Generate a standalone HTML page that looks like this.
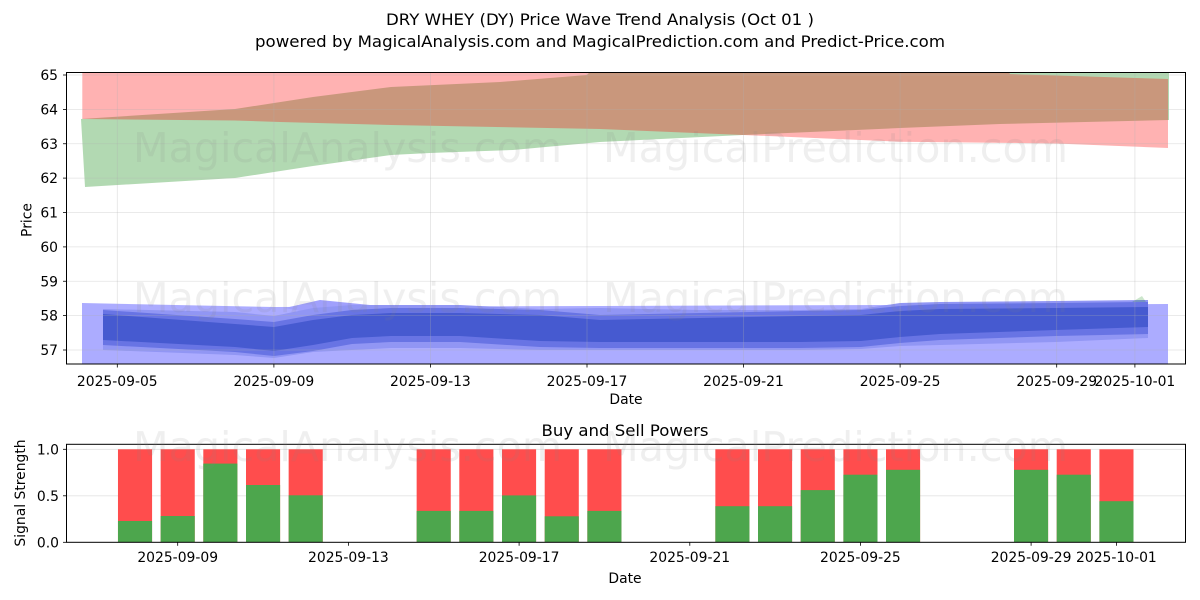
<!DOCTYPE html>
<html><head><meta charset="utf-8"><style>
html,body{margin:0;padding:0;background:#fff;}
svg{display:block;font-family:"DejaVu Sans","Liberation Sans",sans-serif;}
</style></head><body>
<svg width="1200" height="600" viewBox="0 0 1200 600" xmlns="http://www.w3.org/2000/svg">
<defs>
<clipPath id="c1"><rect x="66.5" y="72.5" width="1119" height="291.5"/></clipPath>
<clipPath id="c2"><rect x="66.5" y="444.3" width="1119" height="98"/></clipPath>
</defs>
<rect width="1200" height="600" fill="#fff"/>

<!-- Titles -->
<text x="600" y="25" font-size="16.3" text-anchor="middle" textLength="428" lengthAdjust="spacingAndGlyphs">DRY WHEY (DY) Price Wave Trend Analysis (Oct 01 )</text>
<text x="600" y="47" font-size="16.3" text-anchor="middle" textLength="690" lengthAdjust="spacingAndGlyphs">powered by MagicalAnalysis.com and MagicalPrediction.com and Predict-Price.com</text>

<!-- TOP CHART -->
<g clip-path="url(#c1)">
  <polygon fill="#008000" fill-opacity="0.3" points="81,119 235,109 274,103 313,97 391,87 500,82 587,75 600,60 1169,60 1169,120 1000,124 900,128 743,135 600,142 513,150 430,153 391,155 313,166 274,172 235,178 85,187"/>
  <polygon fill="#ff0000" fill-opacity="0.3" points="82.3,60 1000,60 1010,74 1168,79 1168,148 1056,143.5 900,141.7 743,135 600,129 391,125 280,122 235,120.5 82.3,119"/>
  <polygon fill="rgb(172,172,255)" points="82,303 274,307 600,306 1168,304 1168,370 82,370"/>
  <polygon fill="rgb(160,160,252)" points="285,308 320,300 350,303 380,306 300,311"/>
  <polygon fill="rgb(145,150,244)" points="103,309 235,312 274,316 313,308 352,305 391,305 460,305 540,309 600,308 700,310 800,310 861,309 900,303 940,302 1056,301 1148,300 1148,338 1056,342 940,345 900,346 861,349 800,350 700,350 600,350 540,350 460,348 391,348 352,350 313,352 274,358 235,355 103,350"/>
  <polygon fill="rgb(104,116,228)" points="103,310 235,319 274,322 313,315 352,310 391,308 460,308 540,310 600,315 700,313 800,311 861,310 900,306 940,304 1056,303 1148,302 1148,334 1056,336 940,340 900,343 861,347 800,348 700,348 600,348 540,347 460,342 391,342 352,344 313,351 274,356 235,352 103,345"/>
  <polygon fill="rgb(70,90,208)" points="103,314 235,324 274,327 313,320 352,315 391,313 460,313 540,315 600,320 700,318 800,316 861,315 900,311 940,309 1056,308 1148,307 1148,327 1056,330 940,334 900,337 861,341 800,342 700,342 600,342 540,341 460,336 391,336 352,338 313,345 274,351 235,347 103,340"/>
  <polygon fill="#008000" fill-opacity="0.2" points="1132,302 1142,296 1146,302"/>
</g>

<g stroke="#b0b0b0" stroke-opacity="0.35" stroke-width="0.8">
  <line x1="66.5" x2="1185.5" y1="75" y2="75"/>
  <line x1="66.5" x2="1185.5" y1="109.4" y2="109.4"/>
  <line x1="66.5" x2="1185.5" y1="143.75" y2="143.75"/>
  <line x1="66.5" x2="1185.5" y1="178.1" y2="178.1"/>
  <line x1="66.5" x2="1185.5" y1="212.5" y2="212.5"/>
  <line x1="66.5" x2="1185.5" y1="246.9" y2="246.9"/>
  <line x1="66.5" x2="1185.5" y1="281.25" y2="281.25"/>
  <line x1="66.5" x2="1185.5" y1="315.6" y2="315.6"/>
  <line x1="66.5" x2="1185.5" y1="350" y2="350"/>
  <line y1="72.5" y2="364" x1="117.3" x2="117.3"/>
  <line y1="72.5" y2="364" x1="273.9" x2="273.9"/>
  <line y1="72.5" y2="364" x1="430.4" x2="430.4"/>
  <line y1="72.5" y2="364" x1="587" x2="587"/>
  <line y1="72.5" y2="364" x1="743.5" x2="743.5"/>
  <line y1="72.5" y2="364" x1="900.1" x2="900.1"/>
  <line y1="72.5" y2="364" x1="1056.7" x2="1056.7"/>
  <line y1="72.5" y2="364" x1="1134.9" x2="1134.9"/>
</g>
<rect x="66.5" y="72.5" width="1119" height="291.5" fill="none" stroke="#000" stroke-width="1"/>

<g stroke="#000" stroke-width="0.8">
  <line x1="63" x2="66.5" y1="75" y2="75"/>
  <line x1="63" x2="66.5" y1="109.4" y2="109.4"/>
  <line x1="63" x2="66.5" y1="143.75" y2="143.75"/>
  <line x1="63" x2="66.5" y1="178.1" y2="178.1"/>
  <line x1="63" x2="66.5" y1="212.5" y2="212.5"/>
  <line x1="63" x2="66.5" y1="246.9" y2="246.9"/>
  <line x1="63" x2="66.5" y1="281.25" y2="281.25"/>
  <line x1="63" x2="66.5" y1="315.6" y2="315.6"/>
  <line x1="63" x2="66.5" y1="350" y2="350"/>
  <line y1="364" y2="367.5" x1="117.3" x2="117.3"/>
  <line y1="364" y2="367.5" x1="273.9" x2="273.9"/>
  <line y1="364" y2="367.5" x1="430.4" x2="430.4"/>
  <line y1="364" y2="367.5" x1="587" x2="587"/>
  <line y1="364" y2="367.5" x1="743.5" x2="743.5"/>
  <line y1="364" y2="367.5" x1="900.1" x2="900.1"/>
  <line y1="364" y2="367.5" x1="1056.7" x2="1056.7"/>
  <line y1="364" y2="367.5" x1="1134.9" x2="1134.9"/>
</g>
<g font-size="13.9" text-anchor="end">
  <text x="58" y="80">65</text>
  <text x="58" y="114.4">64</text>
  <text x="58" y="148.75">63</text>
  <text x="58" y="183.1">62</text>
  <text x="58" y="217.5">61</text>
  <text x="58" y="251.9">60</text>
  <text x="58" y="286.25">59</text>
  <text x="58" y="320.6">58</text>
  <text x="58" y="355">57</text>
</g>
<g font-size="13.9" text-anchor="middle">
  <text x="117.3" y="386">2025-09-05</text>
  <text x="273.9" y="386">2025-09-09</text>
  <text x="430.4" y="386">2025-09-13</text>
  <text x="587" y="386">2025-09-17</text>
  <text x="743.5" y="386">2025-09-21</text>
  <text x="900.1" y="386">2025-09-25</text>
  <text x="1056.7" y="386">2025-09-29</text>
  <text x="1134.9" y="386">2025-10-01</text>
  <text x="626" y="404">Date</text>
</g>
<text x="0" y="0" font-size="13.9" text-anchor="middle" transform="translate(31.5,220) rotate(-90)">Price</text>

<!-- BOTTOM CHART -->
<g stroke="#b0b0b0" stroke-opacity="0.35" stroke-width="0.8">
  <line x1="66.5" x2="1185.5" y1="449.3" y2="449.3"/>
  <line x1="66.5" x2="1185.5" y1="495.8" y2="495.8"/>
</g>
<g clip-path="url(#c2)">
  <g fill="#ff4d4d">
    <rect x="117.97" y="449.3" width="34.1" height="93"/>
    <rect x="160.65" y="449.3" width="34.1" height="93"/>
    <rect x="203.3" y="449.3" width="34.1" height="93"/>
    <rect x="246.0" y="449.3" width="34.1" height="93"/>
    <rect x="288.65" y="449.3" width="34.1" height="93"/>
    <rect x="416.65" y="449.3" width="34.1" height="93"/>
    <rect x="459.3" y="449.3" width="34.1" height="93"/>
    <rect x="502.0" y="449.3" width="34.1" height="93"/>
    <rect x="544.7" y="449.3" width="34.1" height="93"/>
    <rect x="587.35" y="449.3" width="34.1" height="93"/>
    <rect x="715.35" y="449.3" width="34.1" height="93"/>
    <rect x="758.0" y="449.3" width="34.1" height="93"/>
    <rect x="800.7" y="449.3" width="34.1" height="93"/>
    <rect x="843.4" y="449.3" width="34.1" height="93"/>
    <rect x="886.0" y="449.3" width="34.1" height="93"/>
    <rect x="1014.0" y="449.3" width="34.1" height="93"/>
    <rect x="1056.7" y="449.3" width="34.1" height="93"/>
    <rect x="1099.4" y="449.3" width="34.1" height="93"/>
  </g>
  <g fill="#4da64d">
    <rect x="117.97" y="521.0" width="34.1" height="21.3"/>
    <rect x="160.65" y="516.0" width="34.1" height="26.3"/>
    <rect x="203.3" y="463.6" width="34.1" height="78.7"/>
    <rect x="246.0" y="485.0" width="34.1" height="57.3"/>
    <rect x="288.65" y="495.3" width="34.1" height="47"/>
    <rect x="416.65" y="510.9" width="34.1" height="31.4"/>
    <rect x="459.3" y="510.9" width="34.1" height="31.4"/>
    <rect x="502.0" y="495.4" width="34.1" height="46.9"/>
    <rect x="544.7" y="516.3" width="34.1" height="26"/>
    <rect x="587.35" y="510.9" width="34.1" height="31.4"/>
    <rect x="715.35" y="506.2" width="34.1" height="36.1"/>
    <rect x="758.0" y="506.2" width="34.1" height="36.1"/>
    <rect x="800.7" y="490.1" width="34.1" height="52.2"/>
    <rect x="843.4" y="474.7" width="34.1" height="67.6"/>
    <rect x="886.0" y="469.8" width="34.1" height="72.5"/>
    <rect x="1014.0" y="469.8" width="34.1" height="72.5"/>
    <rect x="1056.7" y="474.7" width="34.1" height="67.6"/>
    <rect x="1099.4" y="501.2" width="34.1" height="41.1"/>
  </g>
</g>
<rect x="66.5" y="444.3" width="1119" height="98" fill="none" stroke="#000" stroke-width="1"/>
<g stroke="#000" stroke-width="0.8">
  <line x1="63" x2="66.5" y1="449.3" y2="449.3"/>
  <line x1="63" x2="66.5" y1="495.8" y2="495.8"/>
  <line x1="63" x2="66.5" y1="542.3" y2="542.3"/>
  <line y1="542.3" y2="545.8" x1="177.7" x2="177.7"/>
  <line y1="542.3" y2="545.8" x1="348.4" x2="348.4"/>
  <line y1="542.3" y2="545.8" x1="519.1" x2="519.1"/>
  <line y1="542.3" y2="545.8" x1="689.8" x2="689.8"/>
  <line y1="542.3" y2="545.8" x1="860.4" x2="860.4"/>
  <line y1="542.3" y2="545.8" x1="1031.1" x2="1031.1"/>
  <line y1="542.3" y2="545.8" x1="1116.4" x2="1116.4"/>
</g>
<g font-size="13.9" text-anchor="end">
  <text x="59" y="454.3">1.0</text>
  <text x="59" y="500.8">0.5</text>
  <text x="59" y="547.3">0.0</text>
</g>
<g font-size="13.9" text-anchor="middle">
  <text x="177.7" y="562">2025-09-09</text>
  <text x="348.4" y="562">2025-09-13</text>
  <text x="519.1" y="562">2025-09-17</text>
  <text x="689.8" y="562">2025-09-21</text>
  <text x="860.4" y="562">2025-09-25</text>
  <text x="1031.1" y="562">2025-09-29</text>
  <text x="1116.4" y="562">2025-10-01</text>
  <text x="625" y="583">Date</text>
</g>
<text x="625" y="436" font-size="16.3" text-anchor="middle" textLength="167" lengthAdjust="spacingAndGlyphs">Buy and Sell Powers</text>
<text x="0" y="0" font-size="13.9" text-anchor="middle" transform="translate(25,493) rotate(-90)">Signal Strength</text>

<g font-size="41" fill="#808080" fill-opacity="0.13">
  <text x="133" y="162" textLength="429" lengthAdjust="spacingAndGlyphs">MagicalAnalysis.com</text>
  <text x="603" y="162" textLength="465" lengthAdjust="spacingAndGlyphs">MagicalPrediction.com</text>
  <text x="133" y="312" textLength="429" lengthAdjust="spacingAndGlyphs">MagicalAnalysis.com</text>
  <text x="603" y="312" textLength="465" lengthAdjust="spacingAndGlyphs">MagicalPrediction.com</text>
  <text x="133" y="461" textLength="429" lengthAdjust="spacingAndGlyphs">MagicalAnalysis.com</text>
  <text x="603" y="461" textLength="465" lengthAdjust="spacingAndGlyphs">MagicalPrediction.com</text>
</g>
</svg>
</body></html>
